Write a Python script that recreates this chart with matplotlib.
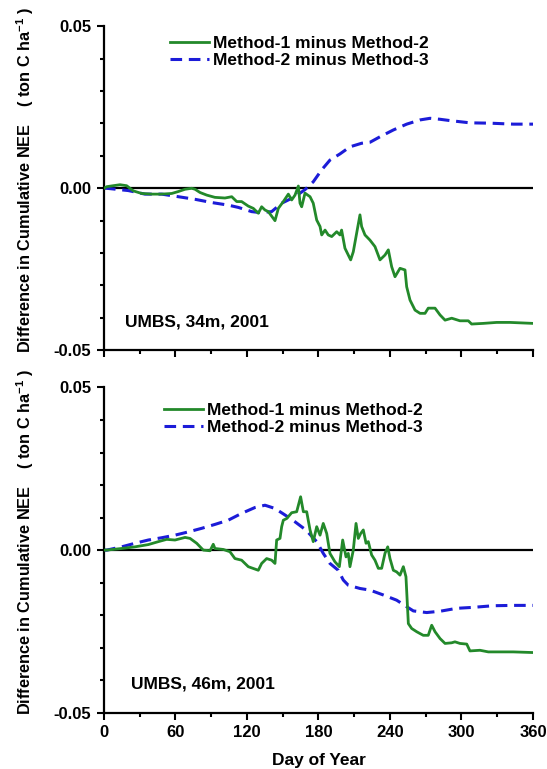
import matplotlib
matplotlib.use('Agg')
import matplotlib.pyplot as plt
from matplotlib.ticker import MultipleLocator, FixedLocator
from matplotlib.lines import Line2D

# ---------------- data ----------------
top_m12_day = [0, 2.3, 7.8, 13.4, 19, 21.8, 24.6, 31.6, 40, 48.4, 56.8, 62.4, 68, 73.6, 76.4,
               80.6, 86.2, 93.1, 101.5, 107.2, 111.4, 115.5, 121.1, 125.3, 129.5, 132.3, 135.1,
               137.9, 143.5, 146.3, 150.5, 154.7, 157.5, 160.3, 163.1, 164.5, 165.9, 167.3, 168.7,
               172.9, 175.6, 178.5, 181.3, 182.7, 185.5, 188.2, 191.1, 195.3, 198, 199.4, 202.2,
               205, 207, 209.2, 212, 214.8, 216.2, 219, 223.2, 227.4, 231.6, 235.8, 238.6, 241.4,
               244.2, 248.4, 252.6, 254, 256.8, 261, 265.2, 269.4, 272.1, 277.8, 282, 286.2, 291.8,
               298.7, 305.7, 308.5, 318.3, 329.5, 340.7, 360]
top_m12_val = [0.0, 0.0005, 0.0008, 0.0011, 0.0008, 0.0, -0.0008, -0.0016, -0.0018, -0.0018,
               -0.0016, -0.0010, -0.0003, 0.0, -0.0003, -0.0013, -0.0021, -0.0028, -0.0030, -0.0026,
               -0.0041, -0.0041, -0.0055, -0.0062, -0.0077, -0.0057, -0.0067, -0.0072, -0.0100,
               -0.0062, -0.0041, -0.0018, -0.0036, -0.0021, 0.0007, -0.0046, -0.0057, -0.0036,
               -0.0015, -0.0026, -0.0046, -0.0098, -0.0118, -0.0144, -0.0129, -0.0144, -0.0149,
               -0.0134, -0.0144, -0.0129, -0.0185, -0.0206, -0.0221, -0.0196, -0.0139, -0.0082,
               -0.0118, -0.0144, -0.0160, -0.0180, -0.0221, -0.0206, -0.0190, -0.0242, -0.0273,
               -0.0247, -0.0252, -0.0304, -0.0345, -0.0376, -0.0386, -0.0386, -0.0370, -0.0370,
               -0.0391, -0.0407, -0.0401, -0.0409, -0.0409, -0.0419, -0.0417, -0.0414, -0.0414,
               -0.0417]

top_m23_day = [0, 2.3, 20.4, 34.4, 48.4, 62.4, 76.4, 90.4, 104.3, 112.7, 123.9, 130.9, 140.7,
               149.1, 160.3, 168.7, 175.6, 182.7, 189.6, 198, 206.4, 216.2, 223.2, 231.6, 242.8,
               254, 265.2, 273.6, 282, 290.3, 307.1, 323.9, 343.5, 360]
top_m23_val = [0.0, 0.0, -0.0007, -0.0018, -0.0018, -0.0026, -0.0034, -0.0044, -0.0052, -0.0059,
               -0.0072, -0.0075, -0.0072, -0.0046, -0.0026, -0.0004, 0.0020, 0.0057, 0.0087,
               0.0106, 0.0128, 0.0139, 0.0142, 0.0159, 0.0180, 0.0198, 0.0211, 0.0216, 0.0213,
               0.0209, 0.0202, 0.0201, 0.0198, 0.0198]

bot_m12_day = [0, 2.3, 14.8, 26, 37.2, 45.6, 52.6, 59.6, 68, 72.2, 77.8, 83.3, 89, 91.7, 93.1,
               100.1, 105.7, 109.9, 115.5, 121.1, 129.5, 132.3, 136.5, 140.7, 143.5, 144.9, 147.7,
               149.1, 150.5, 153.3, 157.5, 161.7, 165, 167.3, 170.1, 172.9, 175.6, 178.5, 181.3,
               184, 186.9, 189.6, 193.8, 197.5, 200.3, 203.1, 205, 206.4, 209.2, 211.5, 213.4,
               215.4, 217.6, 219.9, 221.8, 224.6, 227.4, 230.2, 233, 235.8, 238.1, 240, 242.8,
               245.6, 248.4, 251.2, 253.4, 255.4, 258.2, 262.4, 267.9, 272.1, 275, 277.8, 282,
               286.2, 291.8, 294.5, 298.7, 304.4, 307.1, 315.5, 322.5, 343.5, 360]
bot_m12_val = [0.0, 0.0, 0.0005, 0.0010, 0.0017, 0.0026, 0.0033, 0.0031, 0.0039, 0.0036, 0.0021,
               0.0, -0.0002, 0.0018, 0.0005, 0.0002, -0.0005, -0.0026, -0.0031, -0.0051, -0.0062,
               -0.0041, -0.0026, -0.0031, -0.0041, 0.0031, 0.0036, 0.0072, 0.0092, 0.0097, 0.0115,
               0.0118, 0.0164, 0.0118, 0.0118, 0.0062, 0.0026, 0.0072, 0.0046, 0.0082, 0.0051,
               -0.0010, -0.0036, -0.0051, 0.0031, -0.0021, -0.0010, -0.0051, 0.0, 0.0082, 0.0036,
               0.0051, 0.0062, 0.0021, 0.0026, -0.0015, -0.0031, -0.0056, -0.0056, -0.0010, 0.0010,
               -0.0026, -0.0062, -0.0067, -0.0077, -0.0051, -0.0082, -0.0226, -0.0241, -0.0251,
               -0.0262, -0.0262, -0.0231, -0.0251, -0.0272, -0.0287, -0.0285, -0.0282, -0.0287,
               -0.0289, -0.0310, -0.0308, -0.0313, -0.0313, -0.0315]

bot_m23_day = [0, 2.3, 14.8, 26, 37.2, 48.4, 59.6, 70.8, 82, 93.1, 104.3, 115.5, 126.7, 135.1,
               143.5, 151.9, 160.3, 169.4, 178.5, 184, 189.6, 196.6, 200.8, 205, 214.8, 223.2,
               234.4, 245.6, 254, 259.6, 270.8, 282, 296, 309.9, 326.7, 343.5, 360]
bot_m23_val = [0.0, 0.0, 0.0010, 0.0021, 0.0031, 0.0038, 0.0046, 0.0056, 0.0067, 0.0079, 0.0092,
               0.0113, 0.0131, 0.0138, 0.0128, 0.0108, 0.0087, 0.0062, 0.0026, -0.0010, -0.0041,
               -0.0062, -0.0092, -0.0108, -0.0118, -0.0123, -0.0138, -0.0154, -0.0174, -0.0187,
               -0.0192, -0.0188, -0.0179, -0.0176, -0.0171, -0.0170, -0.0170]

legend_labels = ['Method-1 minus Method-2', 'Method-2 minus Method-3']
site_labels = ['UMBS, 34m, 2001', 'UMBS, 46m, 2001']
x_ticks = [0, 60, 120, 180, 240, 300, 360]
y_ticks = [-0.05, 0.00, 0.05]
y_ticklabels = ['-0.05', '0.00', '0.05']
ylabel_text = 'Difference in Cumulative NEE    ( ton C ha$^{-1}$ )'
xlabel_text = 'Day of Year'

# ---------------- style ----------------
plt.rcParams['font.family'] = ['Liberation Sans', 'DejaVu Sans']
plt.rcParams['font.weight'] = 'bold'
plt.rcParams['axes.unicode_minus'] = False
plt.rcParams['mathtext.fontset'] = 'custom'
plt.rcParams['mathtext.rm'] = 'Liberation Sans:bold'
plt.rcParams['mathtext.it'] = 'Liberation Sans:bold'
plt.rcParams['mathtext.bf'] = 'Liberation Sans:bold'
plt.rcParams['mathtext.default'] = 'rm'

GREEN = '#23892a'
BLUE = '#1c1cd8'
GREEN_LW = 2.0
BLUE_LW = 2.2

fig = plt.figure(figsize=(5.47, 7.69), dpi=100)
ax1 = fig.add_axes([0.1901, 0.5445, 0.7843, 0.4213])
ax2 = fig.add_axes([0.1901, 0.0732, 0.7843, 0.4229])

panels = [
    (ax1, top_m12_day, top_m12_val, top_m23_day, top_m23_val, site_labels[0],
     (0.154, 0.969), (0.049, 0.086), False),
    (ax2, bot_m12_day, bot_m12_val, bot_m23_day, bot_m23_val, site_labels[1],
     (0.140, 0.953), (0.062, 0.088), True),
]

for ax, d1, v1, d2, v2, site, leg_anchor, site_pos, show_x in panels:
    ax.axhline(0, color='black', lw=1.6, zorder=1)
    ax.plot(d1, v1, color=GREEN, lw=GREEN_LW, zorder=3)
    ax.plot(d2, v2, color=BLUE, lw=BLUE_LW, dashes=(3.8, 2.2), zorder=2)
    ax.set_xlim(0, 360)
    ax.set_ylim(-0.05, 0.05)
    for s in ['top', 'right']:
        ax.spines[s].set_visible(False)
    for s in ['left', 'bottom']:
        ax.spines[s].set_linewidth(1.6)
    ax.xaxis.set_major_locator(FixedLocator(x_ticks))
    ax.xaxis.set_minor_locator(MultipleLocator(30))
    ax.yaxis.set_major_locator(FixedLocator(y_ticks))
    ax.yaxis.set_minor_locator(MultipleLocator(0.01))
    ax.set_yticklabels(y_ticklabels)
    ax.tick_params(which='major', direction='out', length=5, width=1.5, labelsize=12, pad=3.5)
    ax.tick_params(which='minor', direction='out', length=3, width=1.5)
    ax.tick_params(axis='y', which='major', pad=4)
    if show_x:
        ax.set_xticklabels([str(t) for t in x_ticks])
        ax.set_xlabel(xlabel_text, fontsize=12.5, fontweight='bold', labelpad=10)
    else:
        ax.set_xticklabels([])
    ax.set_ylabel(ylabel_text, fontsize=11.7, fontweight='bold')
    ax.yaxis.set_label_coords(-0.158, 0.525)
    handles = [Line2D([], [], color=GREEN, lw=GREEN_LW),
               Line2D([], [], color=BLUE, lw=BLUE_LW, dashes=(3.8, 2.2))]
    ax.legend(handles, legend_labels, loc='upper left', bbox_to_anchor=leg_anchor,
              frameon=False, handlelength=2.25, handletextpad=0.2, labelspacing=0.1,
              borderpad=0, borderaxespad=0, prop={'size': 12.5, 'weight': 'bold'})
    ax.text(site_pos[0], site_pos[1], site, transform=ax.transAxes, fontsize=12.5,
            fontweight='bold', ha='left', va='center')

fig.savefig('out.png', dpi=100)
